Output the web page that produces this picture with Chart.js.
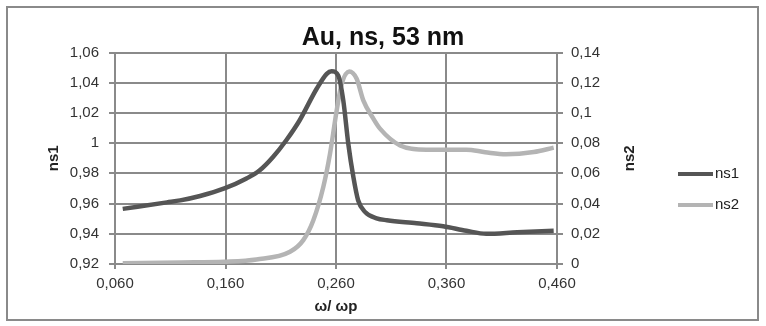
<!DOCTYPE html>
<html>
<head>
<meta charset="utf-8">
<script src="https://cdn.jsdelivr.net/npm/chart.js@4.4.0/dist/chart.umd.min.js"></script>
<style>
  html, body { margin: 0; padding: 0; background: #fff; }
  #wrap { position: relative; width: 766px; height: 326px; }
</style>
</head>
<body>
<div id="wrap"><canvas id="chart"></canvas></div>
<script>
// values
const ns1X = [0.067, 0.107, 0.119, 0.137, 0.159, 0.179, 0.191, 0.203, 0.215, 0.227, 0.2425, 0.2516, 0.256, 0.262, 0.2666, 0.2711, 0.2757, 0.280, 0.2862, 0.2968, 0.306, 0.333, 0.357, 0.378, 0.396, 0.424, 0.457];
const ns1Y = [0.9565, 0.9608, 0.9621, 0.9650, 0.970, 0.9766, 0.982, 0.9908, 1.0019, 1.0150, 1.036, 1.0459, 1.0476, 1.0448, 1.0282, 0.9997, 0.9776, 0.9622, 0.9545, 0.9502, 0.9490, 0.947, 0.945, 0.942, 0.940, 0.941, 0.942];
const ns2X = [0.067, 0.120, 0.159, 0.188, 0.2184, 0.2304, 0.2395, 0.2485, 0.2546, 0.2606, 0.2651, 0.272, 0.2787, 0.2847, 0.2938, 0.2998, 0.318, 0.342, 0.378, 0.395, 0.414, 0.439, 0.457];
const ns2Y = [0.0005, 0.001, 0.0015, 0.0030, 0.0081, 0.0158, 0.029, 0.051, 0.0731, 0.1016, 0.119, 0.1274, 0.1226, 0.1083, 0.0962, 0.0896, 0.0785, 0.0757, 0.0757, 0.074, 0.0726, 0.0741, 0.077];
const xTicks = [0.06, 0.16, 0.26, 0.36, 0.46];

const gridColor = "#8a8a8a";
const tickFont = { family: "Liberation Sans", size: 15 };
const comma = v => String(v).replace(".", ",");

// border round the whole chart, the legend and the right axis title
const extras = {
  id: "extras",
  beforeDraw(chart) {
    const ctx = chart.ctx;
    ctx.save();
    ctx.fillStyle = "#fff";
    ctx.fillRect(0, 0, chart.width, chart.height);
    ctx.strokeStyle = "#8a8a8a";
    ctx.lineWidth = 2;
    ctx.strokeRect(7, 7, 751, 313);
    ctx.restore();
  },
  afterDraw(chart) {
    const ctx = chart.ctx;
    const area = chart.chartArea;
    ctx.save();
    // right axis title, reading upwards like the left one
    ctx.translate(630, (area.top + area.bottom) / 2);
    ctx.rotate(-Math.PI / 2);
    ctx.font = "bold 15px 'Liberation Sans'";
    ctx.fillStyle = "#222";
    ctx.textAlign = "center";
    ctx.textBaseline = "middle";
    ctx.fillText("ns2", 0, 0);
    ctx.restore();

    ctx.save();
    chart.data.datasets.forEach((ds, i) => {
      const y = 174 + i * 31;
      ctx.strokeStyle = ds.borderColor;
      ctx.lineWidth = 4;
      ctx.beginPath();
      ctx.moveTo(678, y);
      ctx.lineTo(713, y);
      ctx.stroke();
      ctx.font = "15px 'Liberation Sans'";
      ctx.fillStyle = "#222";
      ctx.textBaseline = "middle";
      ctx.fillText(ds.label, 715, y);
    });
    ctx.restore();
  }
};

new Chart(document.getElementById("chart"), {
  type: "scatter",
  data: {
    datasets: [
      {
        label: "ns1",
        data: ns1X.map((x, i) => ({ x: x, y: ns1Y[i] })),
        yAxisID: "y",
        showLine: true,
        borderColor: "#555555",
        borderWidth: 4.5,
        pointRadius: 0,
        cubicInterpolationMode: "monotone"
      },
      {
        label: "ns2",
        data: ns2X.map((x, i) => ({ x: x, y: ns2Y[i] })),
        yAxisID: "y2",
        showLine: true,
        borderColor: "#b4b4b4",
        borderWidth: 4.5,
        pointRadius: 0,
        cubicInterpolationMode: "monotone"
      }
    ]
  },
  options: {
    responsive: true,
    maintainAspectRatio: false,
    animation: false,
    layout: { padding: { left: 10, right: 10, top: 8, bottom: 10 } },
    plugins: {
      legend: { display: false },
      tooltip: { enabled: false },
      title: {
        display: true,
        text: "Au, ns, 53 nm",
        color: "#111",
        font: { family: "Liberation Sans", size: 25, weight: "bold", lineHeight: 1.1 },
        padding: { top: 16, bottom: 1 }
      }
    },
    scales: {
      x: {
        type: "linear",
        min: 0.06,
        max: 0.46,
        afterBuildTicks: s => { s.ticks = xTicks.map(v => ({ value: v })); },
        afterFit: s => { s.height = 52; },
        grid: { color: gridColor, lineWidth: 2, tickLength: 5 },
        border: { color: gridColor, width: 2 },
        ticks: { font: tickFont, color: "#333", padding: 6, maxRotation: 0, callback: v => comma(v.toFixed(3)) },
        title: { display: true, text: "ω/ ωp", color: "#222", font: { family: "Liberation Sans", size: 15, weight: "bold" }, padding: { top: 0, bottom: 0 } }
      },
      y: {
        position: "left",
        min: 0.92,
        max: 1.06,
        afterFit: s => { s.width = 105; },
        grid: { color: gridColor, lineWidth: 2, tickLength: 6 },
        border: { color: gridColor, width: 2 },
        ticks: { stepSize: 0.02, font: tickFont, color: "#333", padding: 10, callback: v => comma(Number(v.toFixed(2))) },
        title: { display: true, text: "ns1", color: "#222", font: { family: "Liberation Sans", size: 15, weight: "bold" }, padding: { top: 35, bottom: 0 } }
      },
      y2: {
        position: "right",
        min: 0,
        max: 0.14,
        afterFit: s => { s.width = 199; },
        grid: { drawOnChartArea: false, color: gridColor, lineWidth: 2, tickLength: 6 },
        border: { color: gridColor, width: 2 },
        ticks: { stepSize: 0.02, font: tickFont, color: "#333", padding: 8, callback: v => comma(Number(v.toFixed(2))) }
      }
    }
  },
  plugins: [extras]
});
</script>
</body>
</html>
